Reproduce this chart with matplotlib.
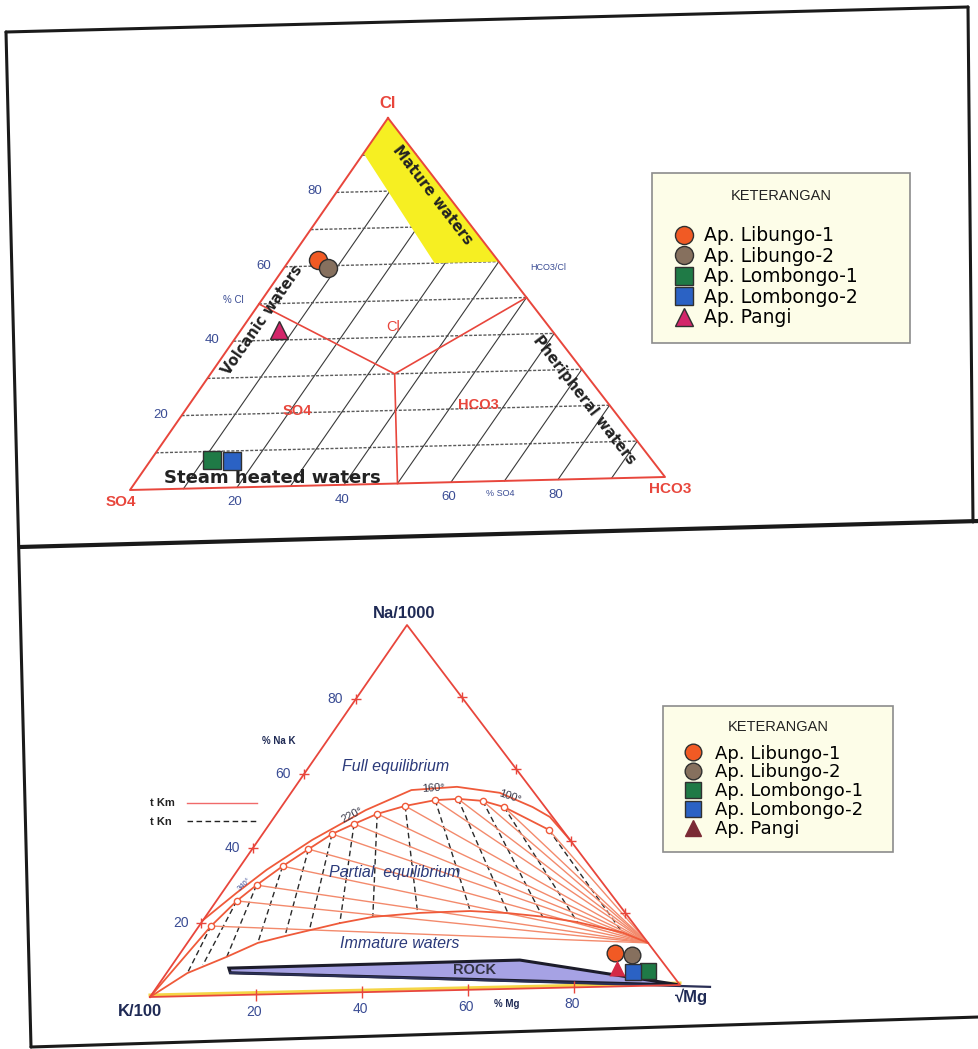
import numpy as np
import matplotlib
matplotlib.use("Agg")
import matplotlib.pyplot as plt
from matplotlib.lines import Line2D
from matplotlib.patches import Polygon
from matplotlib.transforms import Affine2D, offset_copy

plt.rcParams["font.family"] = ["Liberation Sans", "DejaVu Sans"]

W, H = 979, 1049

# samples
names = ["Ap. Libungo-1", "Ap. Libungo-2", "Ap. Lombongo-1", "Ap. Lombongo-2", "Ap. Pangi"]
markers = ["o", "o", "s", "s", "^"]
colors = ["#f15a24", "#86705e", "#1f7a46", "#2b62c4", "#d3266a"]

# Cl - SO4 - HCO3 (%)
cl = [61.6, 59.4, 7.7, 7.3, 42.8]
so4 = [33.0, 32.2, 80.7, 77.1, 50.0]
hco3 = [5.4, 8.4, 11.6, 15.6, 7.2]

# Na/1000 - K/100 - sqrt(Mg) (%)
na = [9.1, 8.5, 4.0, 3.8, 5.0]
k = [7.6, 4.7, 4.0, 6.9, 9.3]
mg = [83.3, 86.8, 92.0, 89.3, 85.7]

# mature waters field (SO4 %, HCO3 %)
mature_so4 = [0, 9.5, 12, 0]
mature_hco3 = [0, 0, 28, 40]

# field boundaries (SO4 %, HCO3 %)
bound_so4 = [50, 35, 0]
bound_hco3 = [0, 35, 50]
split_so4 = [35, 50]
split_hco3 = [35, 50]

grid_pct = [10, 20, 30, 40, 50, 60, 70, 80, 90]
tick_pct = [20, 40, 60, 80]

# full equilibrium curve, upper trace (Na %, Mg %)
full_na = [20.7, 27.9, 34.0, 41.9, 49.7, 54.9, 55.5, 53.6, 49.5, 46.7, 40.3]
full_mg = [0.0, 2.8, 5.5, 10.3, 16.6, 22.7, 31.0, 40.0, 48.2, 52.8, 59.7]

# equilibrium points with isotherm nodes (Na %, Mg %)
node_na = [19.0, 25.7, 29.9, 34.9, 39.4, 43.4, 46.0, 48.6, 50.6, 52.0, 52.2, 51.5, 49.7, 43.2]
node_mg = [2.3, 3.9, 5.6, 8.1, 10.8, 13.3, 16.2, 19.3, 23.6, 28.6, 32.8, 37.8, 42.7, 54.3]

# dashed isotherm feet on the immature boundary (Na %, Mg %)
foot_na = [6.3, 8.4, 10.5, 14.1, 15.8, 17.9, 19.0, 20.5, 21.6, 21.5, 20.7, 19.4, 17.8, 14.7]
foot_mg = [4.0, 5.9, 9.4, 13.5, 17.8, 21.5, 26.6, 32.1, 40.0, 50.0, 57.5, 64.7, 72.0, 82.0]

# immature / partial equilibrium boundary (Na %, Mg %)
partial_na = [0.0, 6.3, 10.5, 14.1, 15.8, 19.0, 20.5, 21.3, 21.5, 20.7, 19.5, 17.8, 14.7, 11.7]
partial_mg = [0.0, 4.0, 9.4, 13.5, 17.8, 26.6, 32.1, 40.6, 50.0, 57.5, 64.7, 72.0, 82.0, 88.3]

# rock dissolution field (Na %, Mg %)
rock_na = [7.4, 7.8, 0.0, 6.1]
rock_mg = [11.3, 66.0, 100.0, 12.2]

RED = "#e8463c"
BLUE = "#3a4c94"
NAVY = "#1f2a55"

fig = plt.figure(figsize=(W / 100, H / 100), dpi=100)
ax = fig.add_axes([0, 0, 1, 1])
ax.set_xlim(0, W)
ax.set_ylim(H, 0)
ax.axis("off")


def tern(p0, p1, p2):
    """(f1 %, f2 %) -> pixel; remaining fraction sits at vertex p0."""
    m = np.array([[p1[0] - p0[0], p2[0] - p0[0], p0[0]],
                  [p1[1] - p0[1], p2[1] - p0[1], p0[1]],
                  [0.0, 0.0, 1.0]])
    return Affine2D().scale(0.01) + Affine2D(m) + ax.transData


def edge_angle(tr, a, b):
    pa, pb = tr.transform([a, b])
    return np.degrees(np.arctan2(pb[1] - pa[1], pb[0] - pa[0]))


# ---------------- panel frames ----------------
frame = dict(color="#1a1a1a", lw=2.2, solid_capstyle="round", zorder=1)
ax.plot([6, 968], [32, 7], **frame)
ax.plot([968, 973], [7, 522], **frame)
ax.plot([6, 31], [32, 1047], **frame)
ax.plot([20, 979], [547, 521], color="#1a1a1a", lw=3, zorder=1)
ax.plot([31, 979], [1047, 1017], **frame)

# ================= Cl - SO4 - HCO3 =================
T1 = tern((388, 118), (130, 490), (665, 477))

for v in grid_pct:
    ax.plot([100 - v, 0], [0, 100 - v], transform=T1, color="#5a5a5a",
            lw=1.0, ls=(0, (2.2, 1.2)), zorder=2)
    ax.plot([100 - v, 0], [v, v], transform=T1, color="#3a3a3a", lw=0.8, zorder=2)

ax.add_patch(Polygon(np.column_stack([mature_so4, mature_hco3]), closed=True,
                     transform=T1, facecolor="#f6ef22", edgecolor="none", zorder=3))
ax.plot(bound_so4, bound_hco3, transform=T1, color=RED, lw=1.2, zorder=4)
ax.plot(split_so4, split_hco3, transform=T1, color=RED, lw=1.2, zorder=4)
ax.plot([0, 100, 0, 0], [0, 0, 100, 0], transform=T1, color=RED, lw=1.4, zorder=4)

for s, c, mk, col in zip(so4, hco3, markers, colors):
    ax.plot([s], [c], transform=T1, marker=mk, ms=13, mfc=col, mec="#303030",
            mew=1.0, ls="none", zorder=6)

# tick labels
for v in tick_pct:
    ax.text(100 - v, 0, f"{v}", transform=offset_copy(T1, fig, x=-14, y=1, units="dots"),
            ha="right", va="center", fontsize=9.5, color=BLUE)
    ax.text(100 - v, v, f"{v}", transform=offset_copy(T1, fig, x=-2, y=-15, units="dots"),
            ha="center", va="center", fontsize=9.5, color=BLUE)
ax.text(233, 300, "% Cl", fontsize=7, color=BLUE, ha="center", va="center")
ax.text(500, 493, "% SO4", fontsize=6.5, color=BLUE, ha="center", va="center")
ax.text(548, 268, "HCO3/Cl", fontsize=6.5, color=BLUE, ha="center", va="center")

ax.text(388, 103, "Cl", fontsize=12, color=RED, weight="bold", ha="center", va="center")
ax.text(121, 502, "SO4", fontsize=11, color=RED, weight="bold", ha="center", va="center")
ax.text(670, 489, "HCO3", fontsize=11, color=RED, weight="bold", ha="center", va="center")
ax.text(393, 327, "Cl", fontsize=10.5, color=RED, ha="center", va="center")
ax.text(297, 411, "SO4", fontsize=10.5, color=RED, weight="bold", ha="center", va="center")
ax.text(478, 405, "HCO3", fontsize=10.5, color=RED, weight="bold", ha="center", va="center")

right_rot = edge_angle(T1, (0, 0), (0, 100))
left_rot = edge_angle(T1, (100, 0), (0, 0))
spaced = dict(family="DejaVu Sans", weight="bold", color="#222222",
              ha="center", va="center", rotation_mode="anchor", zorder=5)
ax.text(432, 195, "Mature waters", fontsize=10.5, rotation=right_rot, **spaced)
ax.text(262, 320, "Volcanic waters", fontsize=10.5, rotation=left_rot, **spaced)
ax.text(584, 400, "Pheripheral waters", fontsize=10.5, rotation=right_rot, **spaced)
ax.text(272, 478, "Steam heated waters", fontsize=13, **spaced)

legend_style = dict(loc="upper left", mode="expand", frameon=True, fancybox=False,
                    facecolor="#fdfde8", edgecolor="#8c8c8c", framealpha=1,
                    borderaxespad=0.0)

h1 = [Line2D([], [], marker=mk, ms=13, mfc=col, mec="#303030", mew=1.0, ls="none")
      for mk, col in zip(markers, colors)]
leg1 = ax.legend(h1, names, title="KETERANGAN\n",
                 bbox_to_anchor=(652 / W, 1 - 173 / H, 258 / W, 0),
                 prop={"family": "DejaVu Sans", "size": 13.5},
                 title_fontproperties={"family": "Liberation Sans", "size": 10.5},
                 labelspacing=0.08, handlelength=1.7, handletextpad=0.2,
                 borderpad=0.85, **legend_style)
leg1.get_frame().set_linewidth(1.2)
leg1.get_title().set_color("#222222")
leg1.get_title().set_linespacing(1.7)
ax.add_artist(leg1)

# ================= Na - K - Mg =================
T2 = tern((150, 997), (407, 625), (680, 985))

# isotherms
for n0, m0, n1, m1 in zip(node_na, node_mg, foot_na, foot_mg):
    ax.plot([n0, n1], [m0, m1], transform=T2, color="#2a2a2a", lw=1.0,
            ls=(0, (4, 2.5)), zorder=2)
for n0, m0 in zip(node_na, node_mg):
    ax.plot([n0, partial_na[-1]], [m0, partial_mg[-1]], transform=T2,
            color="#f38a6c", lw=1.0, zorder=2)

ax.plot(full_na, full_mg, transform=T2, color="#ef5a3a", lw=1.3, zorder=3)
ax.plot([0] + node_na, [0] + node_mg, transform=T2, color="#ef5a3a", lw=1.3, zorder=3)
ax.plot(partial_na, partial_mg, transform=T2, color="#ef5a3a", lw=1.3, zorder=3)
ax.plot(node_na, node_mg, transform=T2, marker="o", ms=4.5, mfc="white",
        mec="#ef5a3a", mew=1.0, ls="none", zorder=4)

# rock field
ax.add_patch(Polygon(np.column_stack([rock_na, rock_mg]), closed=True, transform=T2,
                     facecolor="#a6a2e4", edgecolor="#1c1c2a", lw=2.2, zorder=3))
ax.plot([rock_na[-1], -0.7], [rock_mg[-1], 106], transform=T2, color="#2a2f55",
        lw=1.6, zorder=3)
ax.text(475, 970, "ROCK", fontsize=10.5, weight="bold", color="#333344",
        ha="center", va="center", zorder=4)

# triangle
ax.plot([0, 0], [0, 100], transform=offset_copy(T2, fig, x=0, y=2, units="dots"),
        color="#f5d547", lw=2.2, zorder=2)
ax.plot([0, 100, 0, 0], [0, 0, 100, 0], transform=T2, color=RED, lw=1.3, zorder=4)

for v in tick_pct:
    ax.plot([v], [0], transform=T2, marker="+", ms=7, mew=1.0, color=RED, zorder=4)
    ax.plot([v], [100 - v], transform=T2, marker="+", ms=7, mew=1.0, color=RED, zorder=4)
    ax.plot([0], [v], transform=T2, marker="|", ms=8, mew=1.0, color=RED, zorder=4)
    ax.text(v, 0, f"{v}", transform=offset_copy(T2, fig, x=-13, y=0, units="dots"),
            ha="right", va="center", fontsize=10, color=BLUE)
    ax.text(0, v, f"{v}", transform=offset_copy(T2, fig, x=-2, y=-17, units="dots"),
            ha="center", va="center", fontsize=10, color=BLUE)

for n, m, mk, col in zip(na, mg, markers, colors):
    edge = "none" if mk == "^" else "#303030"
    face = "#d42a45" if mk == "^" else col
    ax.plot([n], [m], transform=T2, marker=mk, ms=12, mfc=face, mec=edge,
            mew=1.0, ls="none", zorder=6)

ax.text(404, 613, "Na/1000", fontsize=12, weight="bold", color=NAVY, ha="center", va="center")
ax.text(140, 1012, "K/100", fontsize=12, weight="bold", color=NAVY, ha="center", va="center")
ax.text(692, 997, "√Mg", fontsize=12, weight="bold", color=NAVY, ha="center", va="center")
ax.text(279, 741, "% Na K", fontsize=7, weight="bold", color=NAVY, ha="center", va="center")
ax.text(507, 1004, "% Mg", fontsize=7, weight="bold", color=NAVY, ha="center", va="center")

ital = dict(style="italic", color="#2b3a7a", ha="center", va="center", zorder=5)
ax.text(396, 767, "Full equilibrium", fontsize=11.5, **ital)
ax.text(395, 873, "Partial  equilibrium", fontsize=11.5, **ital)
ax.text(400, 943, "Immature waters", fontsize=11.5, **ital)

ax.text(352, 815, "220°", fontsize=8, color="#3a3a4a", rotation=28, ha="center", va="center", zorder=5)
ax.text(433, 788, "160°", fontsize=8, color="#3a3a4a", rotation=4, ha="center", va="center", zorder=5)
ax.text(510, 797, "100°", fontsize=8, color="#3a3a4a", rotation=-18, ha="center", va="center", zorder=5)
ax.text(245, 885, "340°", fontsize=5.5, color="#3a4c94", rotation=42, ha="center", va="center", zorder=5)

# isotherm key
ax.plot([187, 257], [803, 803], color="#f06a6a", lw=1.0)
ax.plot([187, 257], [821, 821], color="#222222", lw=1.0, ls=(0, (4, 2.5)))
ax.text(150, 803, "t Km", fontsize=8, weight="bold", color="#222222", va="center")
ax.text(150, 822, "t Kn", fontsize=8, weight="bold", color="#222222", va="center")

h2_colors = ["#f15a24", "#86705e", "#1f7a46", "#2b62c4", "#7b2b35"]
h2 = [Line2D([], [], marker=mk, ms=12, mfc=col,
             mec=(col if mk == "^" else "#303030"), mew=1.0, ls="none")
      for mk, col in zip(markers, h2_colors)]
leg2 = ax.legend(h2, names, title="KETERANGAN\n",
                 bbox_to_anchor=(663 / W, 1 - 706 / H, 230 / W, 0),
                 prop={"family": "DejaVu Sans", "size": 13},
                 title_fontproperties={"family": "Liberation Sans", "size": 10.5},
                 labelspacing=0.05, handlelength=1.78, handletextpad=0.33,
                 borderpad=0.78, **legend_style)
leg2.get_frame().set_linewidth(1.2)
leg2.get_title().set_color("#222222")
leg2.get_title().set_linespacing(0.6)

fig.savefig("out.png", dpi=100)
